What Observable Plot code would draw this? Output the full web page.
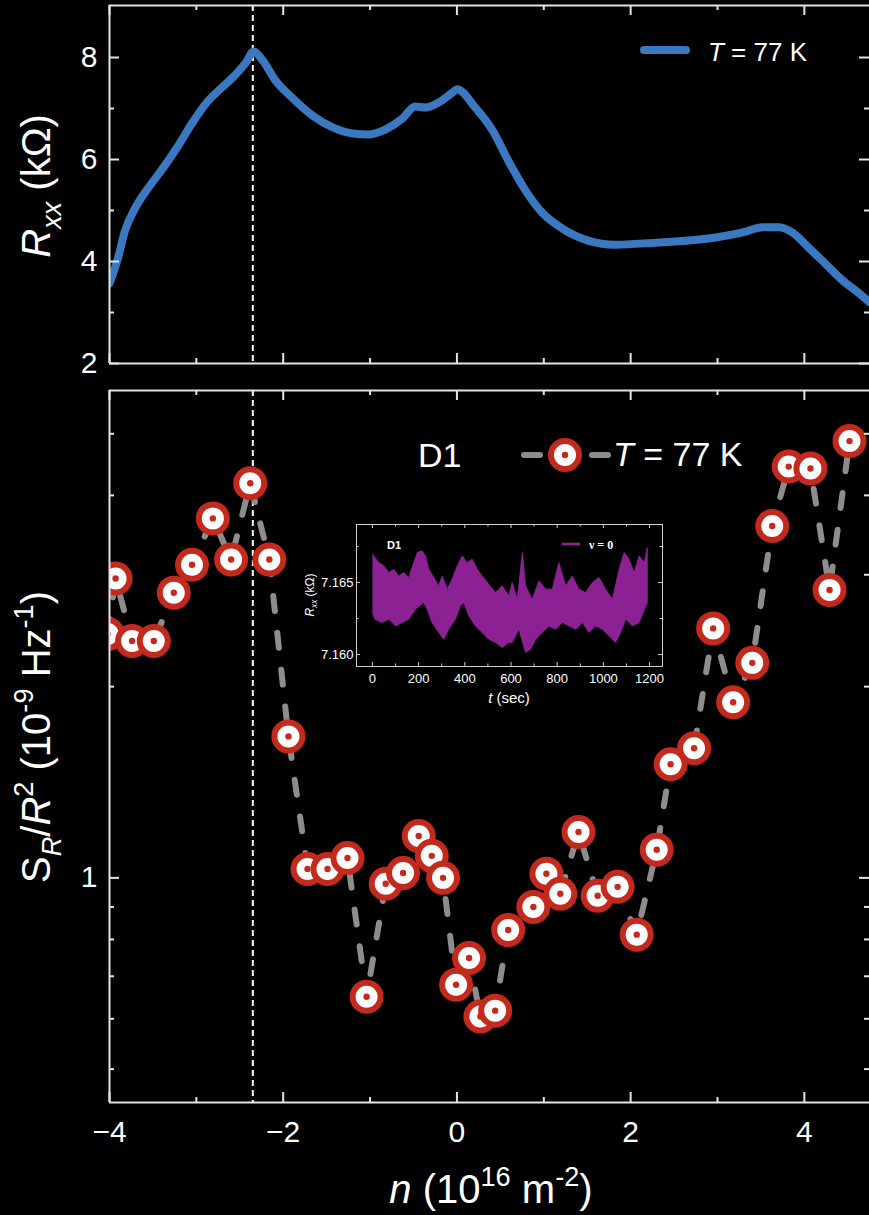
<!DOCTYPE html>
<html>
<head>
<meta charset="utf-8">
<script src="https://cdn.jsdelivr.net/npm/d3@7"></script>
<script src="https://cdn.jsdelivr.net/npm/@observablehq/plot@0.6"></script>
<style>
html, body { margin: 0; padding: 0; background: #000; }
#root { position: relative; width: 869px; height: 1215px; background: #000; overflow: hidden;
  font-family: "Liberation Sans", Arial, sans-serif; }
#root > svg { position: absolute; }
</style>
</head>
<body>
<div id="root"></div>
<script>
// ---------------- DATA ----------------
// Top panel: R_xx (kΩ) vs n (10^16 m^-2), T = 77 K
const rxxN = [-4.00, -3.91, -3.82, -3.70, -3.55, -3.38, -3.22, -3.05, -2.89, -2.72, -2.58, -2.43, -2.34,
  -2.24, -2.09, -1.89, -1.66, -1.43, -1.20, -1.02, -0.82, -0.63, -0.48, -0.36, -0.21, -0.04, 0.00,
  0.21, 0.41, 0.59, 0.79, 0.98, 1.21, 1.51, 1.82, 2.29, 2.67, 2.98, 3.29, 3.52, 3.70, 3.86, 4.05,
  4.24, 4.44, 4.62, 4.75];
const rxxR = [3.57, 4.02, 4.61, 5.06, 5.45, 5.84, 6.24, 6.71, 7.10, 7.39, 7.61, 7.90, 8.12,
  7.95, 7.55, 7.20, 6.86, 6.63, 6.51, 6.49, 6.59, 6.80, 7.04, 7.02, 7.12, 7.33, 7.38,
  7.02, 6.57, 5.98, 5.39, 4.96, 4.65, 4.41, 4.33, 4.37, 4.41, 4.47, 4.57, 4.67, 4.67, 4.57, 4.27,
  3.96, 3.63, 3.39, 3.20];

// Bottom panel: S_R/R^2 (10^-9 Hz^-1) vs n, device D1, T = 77 K
const noiseN = [-4.02, -3.93, -3.74, -3.49, -3.26, -3.05, -2.81, -2.60, -2.38, -2.16, -1.94, -1.72,
  -1.49, -1.26, -1.04, -0.82, -0.62, -0.44, -0.29, -0.16, -0.01, 0.14, 0.27, 0.44, 0.59, 0.88,
  1.03, 1.19, 1.40, 1.62, 1.85, 2.07, 2.30, 2.46, 2.73, 2.95, 3.18, 3.40, 3.63, 3.82, 4.07, 4.29, 4.52];
const noiseS = [2.42, 2.96, 2.36, 2.36, 2.81, 3.11, 3.68, 3.17, 4.18, 3.17, 1.67, 1.033,
  1.033, 1.075, 0.650, 0.979, 1.018, 1.164, 1.083, 1.00, 0.679, 0.748, 0.605, 0.618, 0.828, 0.900,
  1.015, 0.944, 1.181, 0.937, 0.968, 0.814, 1.107, 1.51, 1.60, 2.47, 1.89, 2.18, 3.58, 4.44, 4.41, 2.84, 4.87];

const dashedN = -2.35; // vertical reference line

// Inset: R_xx (kΩ) vs t (sec), nu = 0 — upper and lower envelope of the noisy trace
const upT = [0, 6, 27, 49, 71, 92, 114, 136, 157, 179, 194, 215, 230, 244, 266, 287, 302, 324, 345, 367,
  389, 410, 432, 454, 475, 504, 533, 562, 591, 605, 627, 649, 663, 692, 721, 750, 779, 807, 836, 865,
  894, 923, 952, 981, 1010, 1039, 1068, 1090, 1111, 1133, 1155, 1177, 1190];
const upV = [7.1670, 7.16685, 7.16639, 7.16616, 7.16569, 7.16592, 7.16546, 7.16569, 7.16535, 7.16639,
  7.16708, 7.16720, 7.16685, 7.16592, 7.16535, 7.16477, 7.16546, 7.16454, 7.16523, 7.16616,
  7.16685, 7.16639, 7.16662, 7.16592, 7.16546, 7.16488, 7.16430, 7.16477, 7.16407, 7.16500,
  7.16384, 7.16708, 7.16477, 7.16384, 7.16512, 7.16454, 7.16454, 7.16639, 7.16477, 7.16546,
  7.16454, 7.16430, 7.16500, 7.16535, 7.16454, 7.16384, 7.16592, 7.16708, 7.16662, 7.16569,
  7.16685, 7.16639, 7.16743];
const loT = [0, 11, 40, 71, 100, 129, 157, 186, 222, 237, 258, 287, 309, 330, 359, 381, 396, 417, 446,
  475, 504, 533, 562, 591, 605, 634, 663, 685, 706, 735, 764, 793, 822, 851, 880, 909, 937, 966, 995,
  1024, 1053, 1075, 1097, 1126, 1155, 1184, 1190];
const loV = [7.16292, 7.16245, 7.16222, 7.16245, 7.16199, 7.16222, 7.16245, 7.16315, 7.16361, 7.16315,
  7.16222, 7.16153, 7.16106, 7.16176, 7.16245, 7.16338, 7.16361, 7.16269, 7.16199, 7.16153, 7.16106,
  7.16083, 7.16049, 7.16083, 7.16083, 7.16176, 7.16014, 7.16037, 7.16106, 7.16153, 7.16199, 7.16176,
  7.16222, 7.16199, 7.16176, 7.16222, 7.16153, 7.16199, 7.16176, 7.16130, 7.16083, 7.16153, 7.16245,
  7.16199, 7.16222, 7.16338, 7.16360];

// Tick values
const xMajor = [-4, -2, 0, 2, 4];
const xMinor = [-3, -1, 1, 3];
const topYMajor = [2, 4, 6, 8];
const topYMinor = [3, 5, 7];
const botYMajor = [1];
const botYMinor = [0.5, 0.6, 0.7, 0.8, 0.9, 2, 3, 4, 5];
const inXMajor = [0, 200, 400, 600, 800, 1000, 1200];
const inXMinor = [100, 300, 500, 700, 900, 1100];
const inYMajor = [7.160, 7.165];
const inYMinor = [7.1625, 7.1675];

// ---------------- STYLE ----------------
const FG = "#e4e4e4";
const RED = "#c4291d";
const BLUE = "#3a78c0";
const GRAY = "#8d8d8d";
const PURPLE = "#93239b";
const FONT = '"Liberation Sans", Arial, sans-serif';

const W = 869;
const xDomain = [-4, 4.75];
const minus = d => (d < 0 ? "\u2212" + Math.abs(d) : String(d));

const rxx = rxxN.map((n, i) => ({n, r: rxxR[i]}));
const noise = noiseN.map((n, i) => ({n, s: noiseS[i]}));

function frameTicks({xMaj, xMin, yMaj, yMin, fh, fw, major, minor, sw, color}) {
  const o = {stroke: color, strokeWidth: sw};
  return [
    Plot.tickX(xMaj, {x: d => d, insetTop: fh - major, ...o}),
    Plot.tickX(xMin, {x: d => d, insetTop: fh - minor, ...o}),
    Plot.tickX(xMaj, {x: d => d, insetBottom: fh - major, ...o}),
    Plot.tickX(xMin, {x: d => d, insetBottom: fh - minor, ...o}),
    Plot.tickY(yMaj, {y: d => d, insetRight: fw - major, ...o}),
    Plot.tickY(yMin, {y: d => d, insetRight: fw - minor, ...o}),
    Plot.tickY(yMaj, {y: d => d, insetLeft: fw - major, ...o}),
    Plot.tickY(yMin, {y: d => d, insetLeft: fw - minor, ...o})
  ];
}

const root = document.getElementById("root");

// ---------------- TOP PANEL ----------------
const topH = 385, topMT = 5, topMB = 22, ML = 109;
const topYDomain = [2, 9.02];
const topPlot = Plot.plot({
  width: W, height: topH,
  marginLeft: ML, marginRight: 0, marginTop: topMT, marginBottom: topMB,
  style: {background: "transparent", color: "white", fontFamily: FONT, fontSize: "30px"},
  x: {domain: xDomain, axis: null},
  y: {domain: topYDomain},
  marks: [
    Plot.ruleX([dashedN], {stroke: "white", strokeWidth: 2, strokeDasharray: "6,4"}),
    Plot.line(rxx, {x: "n", y: "r", stroke: BLUE, strokeWidth: 8, curve: "monotone-x", clip: true, strokeLinejoin: "round"}),
    ...frameTicks({xMaj: xMajor, xMin: xMinor, yMaj: topYMajor, yMin: topYMinor,
      fh: topH - topMT - topMB, fw: W - ML, major: 10, minor: 5, sw: 2, color: FG}),
    Plot.ruleX([xDomain[0]], {stroke: FG, strokeWidth: 2}),
    Plot.ruleY(topYDomain, {stroke: FG, strokeWidth: 2}),
    Plot.axisY({ticks: topYMajor, tickSize: 0, tickPadding: 12, fontSize: 30, label: null, tickFormat: d => String(d)})
  ]
});
topPlot.style.left = "0px"; topPlot.style.top = "0px";
root.appendChild(topPlot);

// ---------------- BOTTOM PANEL ----------------
const botTop = 370, botH = 845, botMT = 20, botMB = 113;
const botYDomain = [0.443, 5.85];
const botPlot = Plot.plot({
  width: W, height: botH,
  marginLeft: ML, marginRight: 0, marginTop: botMT, marginBottom: botMB,
  style: {background: "transparent", color: "white", fontFamily: FONT, fontSize: "30px"},
  x: {domain: xDomain},
  y: {type: "log", domain: botYDomain},
  marks: [
    Plot.ruleX([dashedN], {stroke: "white", strokeWidth: 2, strokeDasharray: "6,4"}),
    Plot.line(noise, {x: "n", y: "s", stroke: GRAY, strokeWidth: 6, strokeDasharray: "15,22", strokeLinecap: "round", clip: true}),
    ...noise.flatMap(d => [
      Plot.dot([d], {x: "n", y: "s", r: 14, fill: "white", stroke: RED, strokeWidth: 6, clip: true}),
      Plot.dot([d], {x: "n", y: "s", r: 3.2, fill: RED, stroke: "none", clip: true})
    ]),
    ...frameTicks({xMaj: xMajor, xMin: xMinor, yMaj: botYMajor, yMin: botYMinor,
      fh: botH - botMT - botMB, fw: W - ML, major: 10, minor: 5, sw: 2, color: FG}),
    Plot.ruleX([xDomain[0]], {stroke: FG, strokeWidth: 2}),
    Plot.ruleY(botYDomain, {stroke: FG, strokeWidth: 2}),
    Plot.axisY({ticks: botYMajor, tickSize: 0, tickPadding: 12, fontSize: 30, label: null, tickFormat: d => String(d)}),
    Plot.axisX({ticks: xMajor, tickSize: 0, tickPadding: 18, fontSize: 30, label: null, tickFormat: minus})
  ]
});
botPlot.style.left = "0px"; botPlot.style.top = botTop + "px";
root.appendChild(botPlot);

// ---------------- INSET ----------------
const inL = 300, inTop = 515, inW = 370, inH = 200;
const inMT = 9, inMB = 49, inML = 56, inMR = 8;
const inXDomain = [-69, 1256];
const inYDomain = [7.15917, 7.16903];
const poly = [
  ...upT.map((t, i) => ({t, v: upV[i]})),
  ...loT.map((t, i) => ({t, v: loV[i]})).reverse()
];
const inset = Plot.plot({
  width: inW, height: inH,
  marginLeft: inML, marginRight: inMR, marginTop: inMT, marginBottom: inMB,
  style: {background: "transparent", color: "white", fontFamily: FONT, fontSize: "13px"},
  x: {domain: inXDomain},
  y: {domain: inYDomain},
  marks: [
    Plot.frame({fill: "black", stroke: "none"}),
    Plot.line(poly, {x: "t", y: "v", fill: PURPLE, stroke: PURPLE, strokeWidth: 0.8, fillOpacity: 0.95}),
    ...frameTicks({xMaj: inXMajor, xMin: inXMinor, yMaj: inYMajor, yMin: inYMinor,
      fh: inH - inMT - inMB, fw: inW - inML - inMR, major: 4, minor: 2.5, sw: 1, color: "#cfcfcf"}),
    Plot.frame({stroke: "#cfcfcf", strokeWidth: 1}),
    Plot.axisX({ticks: inXMajor, tickSize: 0, tickPadding: 7, fontSize: 13, label: null, tickFormat: d => String(d)}),
    Plot.axisY({ticks: inYMajor, tickSize: 0, tickPadding: 3, fontSize: 13, label: null, tickFormat: d => d.toFixed(3)})
  ]
});
inset.style.left = inL + "px"; inset.style.top = inTop + "px";
root.appendChild(inset);

// ---------------- TEXT OVERLAY (titles, legends) ----------------
const ov = d3.select(root).append("svg")
  .attr("width", W).attr("height", 1215)
  .style("left", "0px").style("top", "0px").style("pointer-events", "none")
  .attr("font-family", FONT);

function rich(g, {x, y, rotate = 0, anchor = "start", size, parts, family, weight}) {
  const t = g.append("text")
    .attr("transform", `translate(${x},${y}) rotate(${rotate})`)
    .attr("text-anchor", anchor).attr("font-size", size).attr("fill", "white");
  if (family) t.attr("font-family", family);
  if (weight) t.attr("font-weight", weight);
  let shift = 0;
  for (const p of parts) {
    const s = p.sub ? size * 0.28 : p.sup ? -size * 0.42 : 0;
    const ts = t.append("tspan").text(p.t).attr("font-size", (p.sub || p.sup) ? size * 0.68 : size);
    if (s !== shift) ts.attr("dy", s - shift);
    shift = s;
    if (p.i) ts.attr("font-style", "italic");
  }
  return t;
}

// axis titles
rich(ov, {x: 50, y: 186, rotate: -90, anchor: "middle", size: 40,
  parts: [{t: "R", i: true}, {t: "xx", i: true, sub: true}, {t: " (kΩ)"}]});
rich(ov, {x: 50, y: 737, rotate: -90, anchor: "middle", size: 40,
  parts: [{t: "S"}, {t: "R", i: true, sub: true}, {t: "/"}, {t: "R", i: true}, {t: "2", sup: true},
          {t: " (10"}, {t: "-9", sup: true}, {t: " Hz"}, {t: "-1", sup: true}, {t: ")"}]});
rich(ov, {x: 491, y: 1203, anchor: "middle", size: 40,
  parts: [{t: "n", i: true}, {t: " (10"}, {t: "16", sup: true}, {t: " m"}, {t: "-2", sup: true}, {t: ")"}]});

// top legend
ov.append("line").attr("x1", 644).attr("x2", 686).attr("y1", 50).attr("y2", 50)
  .attr("stroke", BLUE).attr("stroke-width", 8).attr("stroke-linecap", "round");
rich(ov, {x: 708, y: 61, size: 26, parts: [{t: "T", i: true}, {t: " = 77 K"}]});

// bottom legend
rich(ov, {x: 418, y: 467, size: 34, parts: [{t: "D1"}]});
ov.append("line").attr("x1", 524).attr("x2", 608).attr("y1", 455).attr("y2", 455)
  .attr("stroke", GRAY).attr("stroke-width", 6).attr("stroke-linecap", "round").attr("stroke-dasharray", "16,52");
ov.append("circle").attr("cx", 565).attr("cy", 455).attr("r", 14)
  .attr("fill", "white").attr("stroke", RED).attr("stroke-width", 6);
ov.append("circle").attr("cx", 565).attr("cy", 455).attr("r", 3.2).attr("fill", RED);
rich(ov, {x: 613, y: 466, size: 34, parts: [{t: "T", i: true}, {t: " = 77 K"}]});

// inset annotations
rich(ov, {x: 387, y: 549, size: 11, weight: "bold", parts: [{t: "D1"}]});
ov.append("line").attr("x1", 562).attr("x2", 580).attr("y1", 544).attr("y2", 544)
  .attr("stroke", PURPLE).attr("stroke-width", 2.5);
rich(ov, {x: 589, y: 549, size: 12, family: '"Liberation Serif", "DejaVu Serif", serif', weight: "bold", parts: [{t: "ν = 0"}]});
rich(ov, {x: 314, y: 595, rotate: -90, anchor: "middle", size: 12,
  parts: [{t: "R", i: true}, {t: "xx", i: true, sub: true}, {t: " (kΩ)"}]});
rich(ov, {x: 509, y: 703, anchor: "middle", size: 15,
  parts: [{t: "t", i: true}, {t: " (sec)"}]});
</script>
</body>
</html>
